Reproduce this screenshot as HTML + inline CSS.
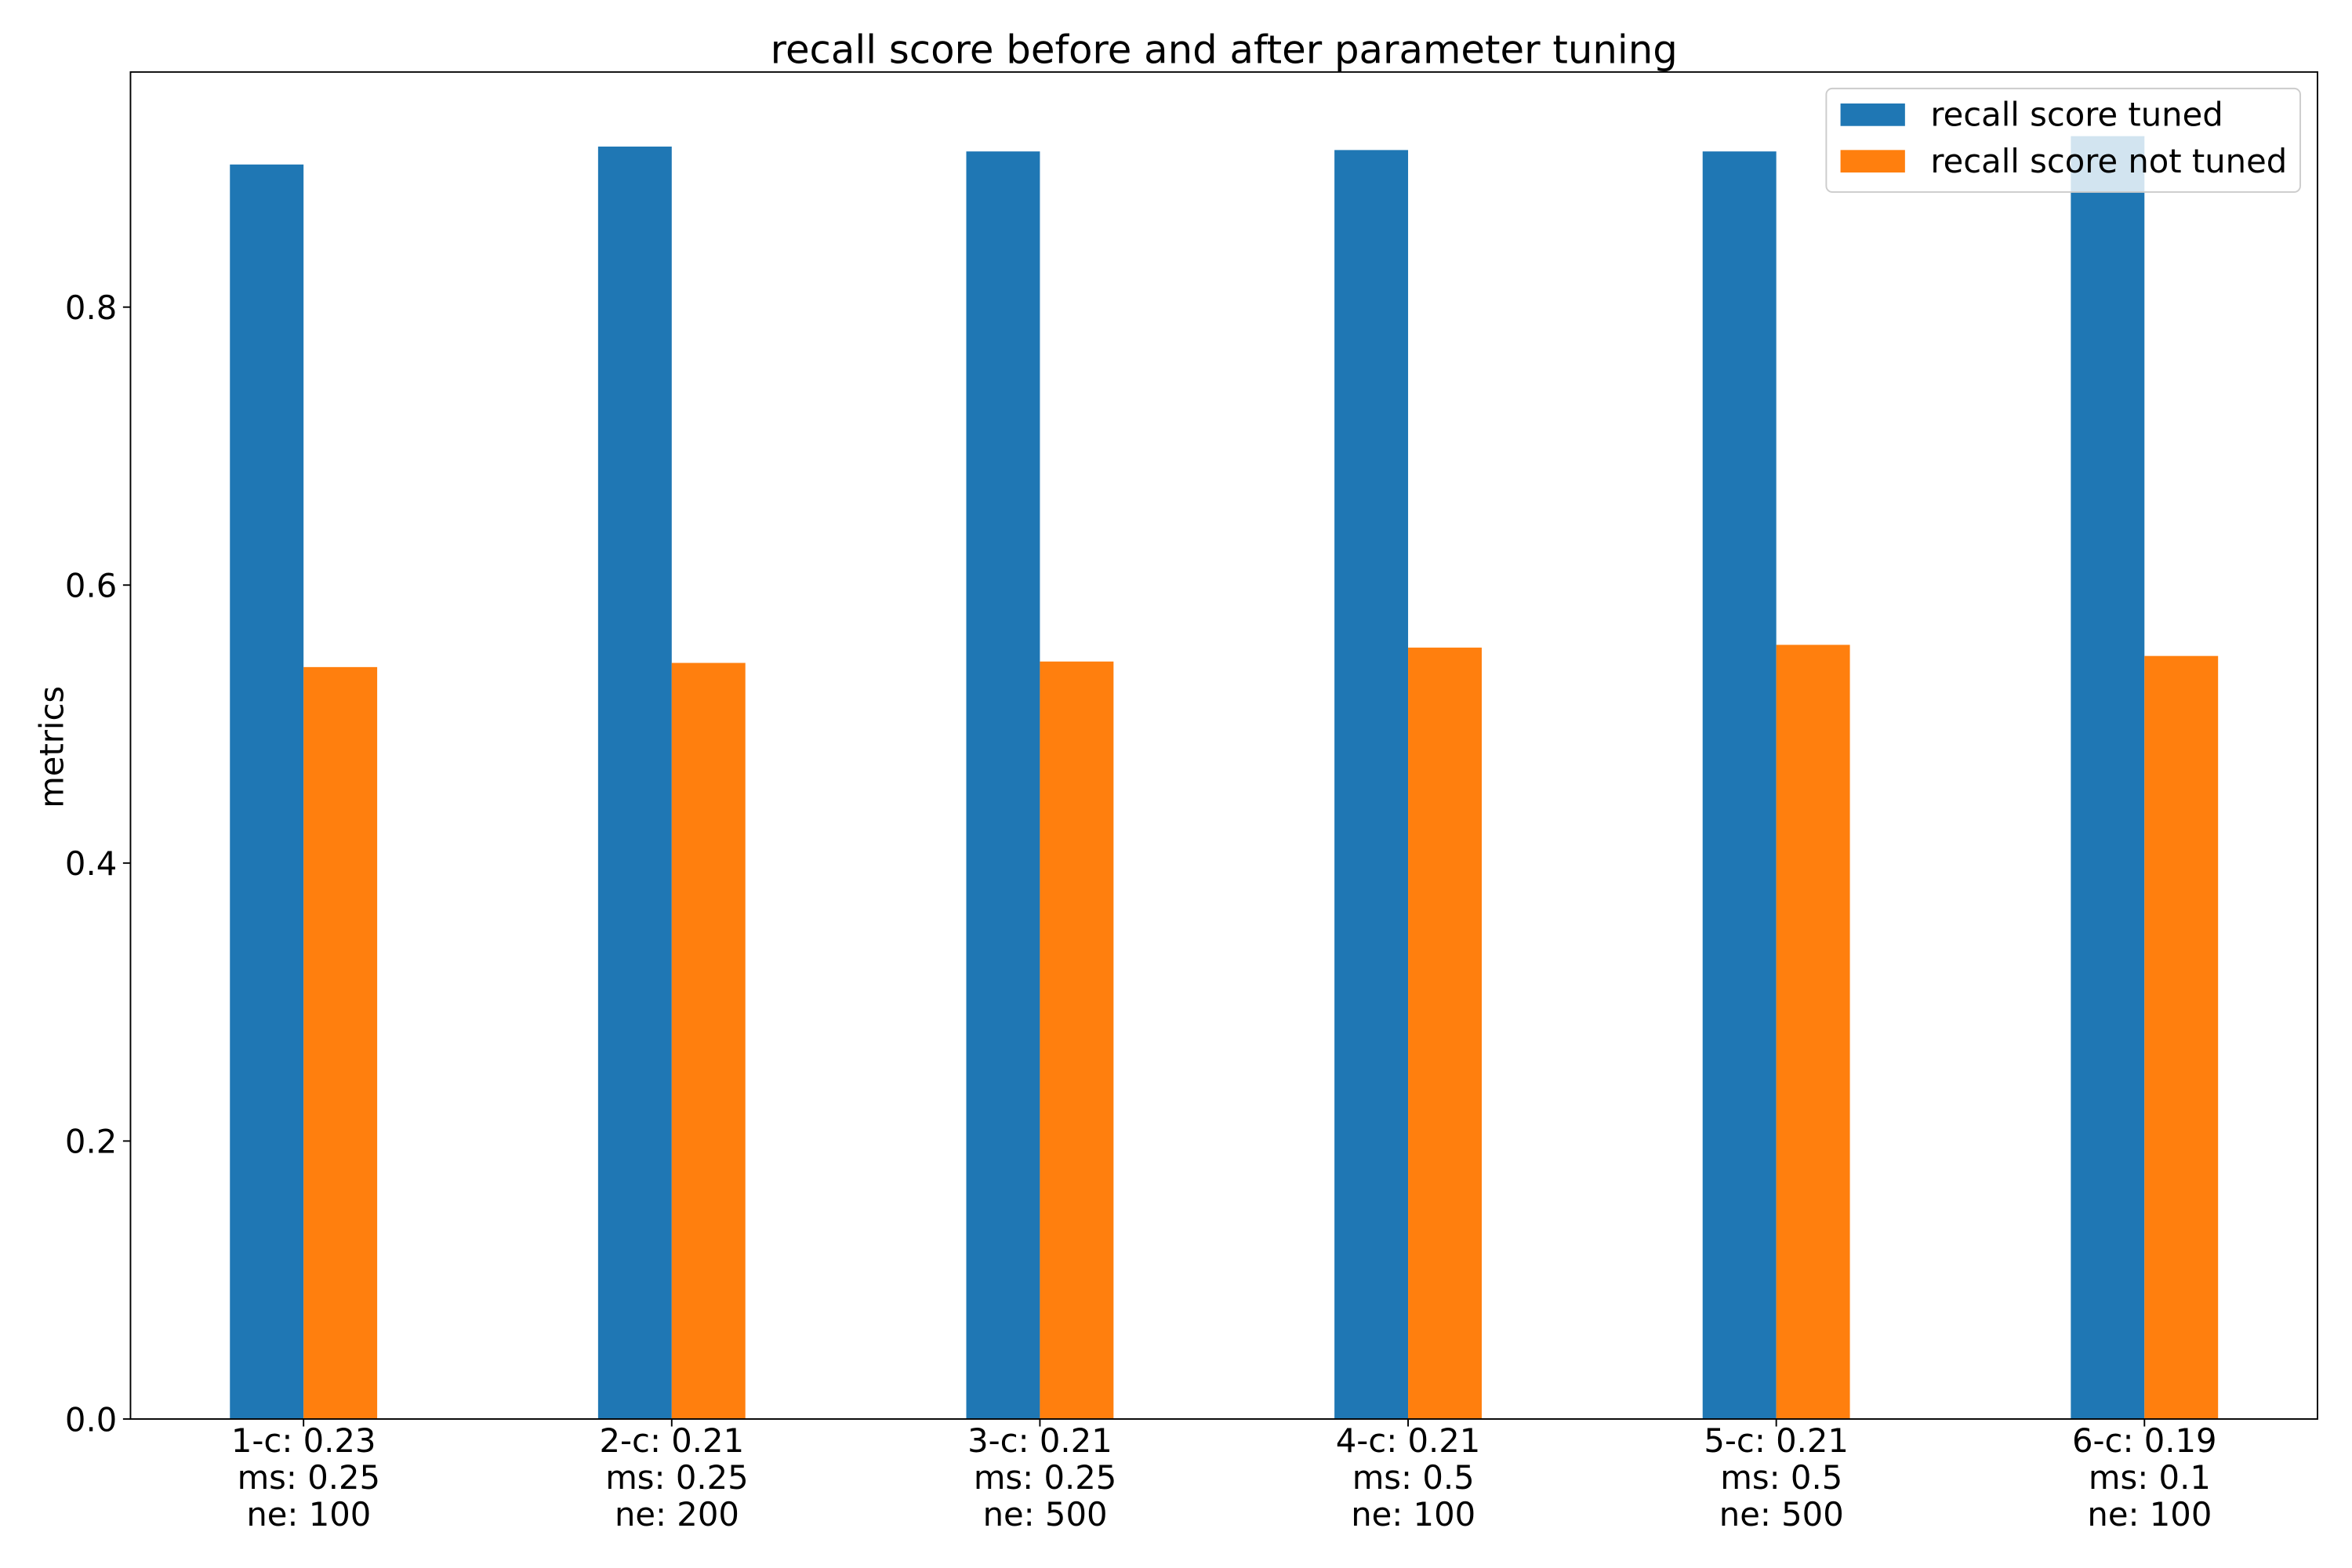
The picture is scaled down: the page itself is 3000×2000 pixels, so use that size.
<!DOCTYPE html>
<html><head><meta charset="utf-8"><style>
html,body{margin:0;padding:0;background:#fff;}
svg{display:block;font-family:"DejaVu Sans","Liberation Sans",sans-serif;}
</style></head><body>
<svg id="chart" width="3000" height="2000" viewBox="0 0 1568 1045.33" xmlns="http://www.w3.org/2000/svg">
<rect width="1568" height="1045.33" fill="#fff"/>
<text x="816" y="42" font-size="26" text-anchor="middle">recall score before and after parameter tuning</text>
<text x="42" y="498" font-size="21.8" text-anchor="middle" transform="rotate(-90 42 498)">metrics</text>
<g id="marks"></g>
<g id="axes"></g>
<g>
<rect x="1217.5" y="59" width="316" height="69" rx="4" fill="#fff" fill-opacity="0.8" stroke="#ccc" stroke-width="1"/>
<rect x="1227" y="69" width="43" height="15" fill="#1f77b4"/>
<text x="1287" y="84" font-size="21.8">recall score tuned</text>
<rect x="1227" y="100" width="43" height="15" fill="#ff7f0e"/>
<text x="1287" y="115" font-size="21.8">recall score not tuned</text>
</g>
</svg>
<script>
const categories = [["1-c: 0.23"," ms: 0.25"," ne: 100"],["2-c: 0.21"," ms: 0.25"," ne: 200"],["3-c: 0.21"," ms: 0.25"," ne: 500"],["4-c: 0.21"," ms: 0.5"," ne: 100"],["5-c: 0.21"," ms: 0.5"," ne: 500"],["6-c: 0.19"," ms: 0.1"," ne: 100"]];
const tuned = [0.9026, 0.9155, 0.912, 0.913, 0.912, 0.923];
const notTuned = [0.541, 0.544, 0.545, 0.555, 0.557, 0.549];
const yTicks = [0, 0.2, 0.4, 0.6, 0.8];
const yTickLabels = ["0.0","0.2","0.4","0.6","0.8"];

const NS = "http://www.w3.org/2000/svg";
const L=87, R=1545, T=48, B=946;
const n = categories.length;
const xmin=-0.2-0.05*(n-1+0.4), xmax=(n-1)+0.2+0.05*(n-1+0.4);
const ymax = Math.max(...tuned, ...notTuned)*1.05;
const xs = v => L + (v-xmin)/(xmax-xmin)*(R-L);
const ys = v => B - v/ymax*(B-T);
const bw = 0.2;
const marks = document.getElementById('marks');
const axes = document.getElementById('axes');
function mk(tag, attrs, parent){const e=document.createElementNS(NS,tag);for(const k in attrs)e.setAttribute(k,attrs[k]);parent.appendChild(e);return e;}
for(let i=0;i<n;i++){
  let r=mk('rect',{x:xs(i-bw),y:ys(tuned[i]),width:xs(i)-xs(i-bw),height:ys(0)-ys(tuned[i]),fill:'#1f77b4'},marks);
  
  
  let o=mk('rect',{x:xs(i),y:ys(notTuned[i]),width:xs(i+bw)-xs(i),height:ys(0)-ys(notTuned[i]),fill:'#ff7f0e'},marks);
  
  
  mk('line',{x1:xs(i),x2:xs(i),y1:B,y2:B+5,stroke:'#000','stroke-width':1},axes);
  const t=mk('text',{x:xs(i),y:B+22,'font-size':21.8,'text-anchor':'middle','xml:space':'preserve'},axes);
  
  
  t.style.whiteSpace='pre';
  categories[i].forEach((line,j)=>{const s=mk('tspan',{x:xs(i),dy:j?24.5:0},t);s.textContent=line;});
}
yTicks.forEach((v,k)=>{
  mk('line',{x1:L-5,x2:L,y1:ys(v),y2:ys(v),stroke:'#000','stroke-width':1},axes);
  const t=mk('text',{x:L-9,y:ys(v)+8,'font-size':21.8,'text-anchor':'end'},axes);
  
  
  t.textContent=yTickLabels[k];
});
const frame=mk('rect',{x:L,y:T,width:R-L,height:B-T,fill:'none',stroke:'#000','stroke-width':1},axes);


</script>
</body></html>
